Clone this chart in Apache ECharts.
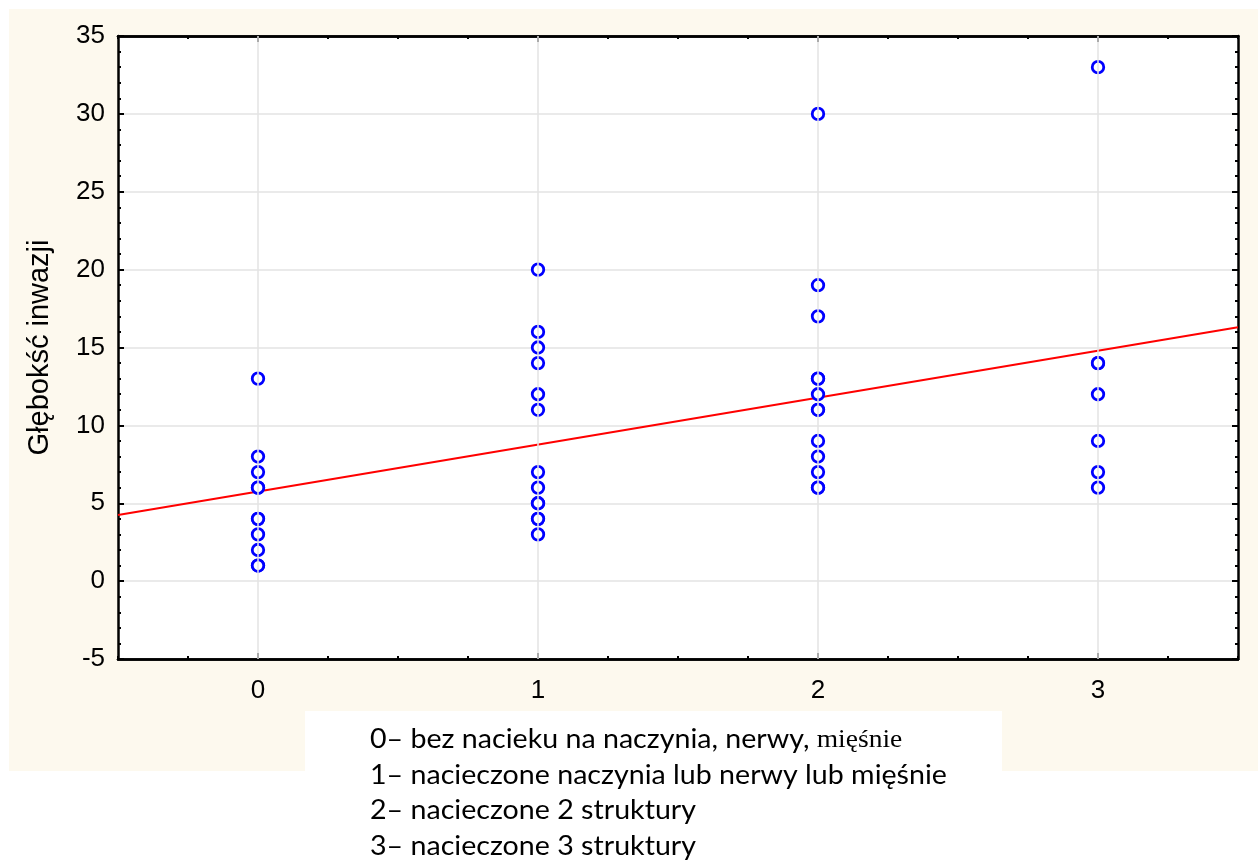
<!DOCTYPE html>
<html>
<head>
<meta charset="utf-8">
<script src="https://cdn.jsdelivr.net/npm/echarts@6/dist/echarts.min.js"></script>
<style>
  html, body { margin: 0; padding: 0; background: #ffffff; }
  #chart { width: 1258px; height: 861px; }
</style>
</head>
<body>
<div id="chart"></div>
<script>
// Infiltration category (x) and depth of invasion (y) per patient
const categories = [0, 1, 2, 3];
const depthGroup0 = [13, 8, 7, 6, 6, 4, 4, 3, 2, 1, 1];
const depthGroup1 = [20, 16, 15, 14, 12, 11, 7, 6, 5, 5, 4, 4, 3];
const depthGroup2 = [30, 19, 17, 13, 13, 12, 11, 11, 9, 8, 7, 6, 6];
const depthGroup3 = [33, 14, 14, 12, 9, 7, 6];
const xRange = [-0.5, 3.5];
const yRange = [-5, 35];
const yStep = 5;
const yAxisTitle = 'Głębokść inwazji';
const legendLines = [
  ['0– bez nacieku na naczynia, nerwy, ', 'mięśnie'],
  ['1– nacieczone naczynia lub nerwy lub mięśnie'],
  ['2– nacieczone 2 struktury'],
  ['3– nacieczone 3 struktury']
];

const groups = [depthGroup0, depthGroup1, depthGroup2, depthGroup3];
const points = [];
groups.forEach((vals, i) => vals.forEach(v => points.push([categories[i], v])));

// Least-squares fit of depth against category
const n = points.length;
const mx = points.reduce((s, p) => s + p[0], 0) / n;
const my = points.reduce((s, p) => s + p[1], 0) / n;
let sxy = 0, sxx = 0;
points.forEach(p => { sxy += (p[0] - mx) * (p[1] - my); sxx += (p[0] - mx) * (p[0] - mx); });
const slope = sxy / sxx;
const intercept = my - slope * mx;
const fitLine = xRange.map(x => [x, intercept + slope * x]);

const FONT = '"Liberation Sans", Arial, sans-serif';
const frame = { show: true, onZero: false, lineStyle: { color: '#000', width: 2.5 } };
const tickStyle = { color: '#000', width: 2 };

function xAxisBase(pos, extra) {
  return Object.assign({
    type: 'value', position: pos, min: xRange[0], max: xRange[1],
    axisLine: frame, splitLine: { show: false },
    axisLabel: { show: false }
  }, extra);
}
function yAxisBase(pos, extra) {
  return Object.assign({
    type: 'value', position: pos, min: yRange[0], max: yRange[1], interval: yStep,
    axisLine: frame,
    axisTick: { show: true, inside: true, length: 6, lineStyle: tickStyle },
    minorTick: { show: true, splitNumber: 5, length: 3, lineStyle: tickStyle },
    axisLabel: { show: false }
  }, extra);
}

const chart = echarts.init(document.getElementById('chart'));
chart.setOption({
  backgroundColor: '#ffffff',
  animation: false,
  grid: {
    left: 118, top: 36, right: 20, bottom: 202,
    show: true, backgroundColor: '#ffffff', borderWidth: 0
  },
  xAxis: [
    xAxisBase('bottom', {
      interval: 0.25,
      axisTick: { show: true, inside: true, length: 3, lineStyle: tickStyle },
      axisLabel: {
        show: true, margin: 19, color: '#000', fontSize: 26, fontFamily: FONT,
        formatter: v => (Number.isInteger(v) && categories.includes(v)) ? String(v) : ''
      }
    }),
    xAxisBase('bottom', {
      axisTick: { show: true, inside: true, length: 6, customValues: categories, lineStyle: tickStyle }
    }),
    xAxisBase('top', {
      interval: 0.25,
      axisTick: { show: true, inside: true, length: 3, lineStyle: tickStyle }
    }),
    xAxisBase('top', {
      axisTick: { show: true, inside: true, length: 6, customValues: categories, lineStyle: tickStyle }
    })
  ],
  yAxis: [
    yAxisBase('left', {
      name: yAxisTitle, nameLocation: 'middle', nameGap: 64,
      nameTextStyle: { color: '#000', fontSize: 29, fontFamily: FONT },
      splitLine: { show: true, lineStyle: { color: '#e3e3e3', width: 1.5 } },
      axisLabel: { show: true, margin: 13, color: '#000', fontSize: 26, fontFamily: FONT }
    }),
    yAxisBase('right', { splitLine: { show: false } })
  ],
  series: [
    {
      type: 'line', xAxisIndex: 0, yAxisIndex: 0, data: [], silent: true,
      markLine: {
        silent: true, symbol: ['none', 'none'], label: { show: false },
        lineStyle: { color: '#e3e3e3', width: 1.5, type: 'solid' },
        data: categories.map(c => ({ xAxis: c }))
      },
      z: 1
    },
    {
      type: 'line', xAxisIndex: 0, yAxisIndex: 0, data: fitLine,
      showSymbol: false, symbol: 'none',
      lineStyle: { color: '#ff0000', width: 2.2 }, z: 3
    },
    {
      type: 'scatter', xAxisIndex: 0, yAxisIndex: 0, data: points,
      symbol: 'circle', symbolSize: 11.5,
      itemStyle: { color: '#ffffff', borderColor: '#0000ff', borderWidth: 2.8, opacity: 1 },
      z: 4
    }
  ],
  graphic: [
    { type: 'rect', z: -100, shape: { x: 9, y: 9, width: 1249, height: 762 }, style: { fill: '#fdf9ee' } },
    { type: 'rect', z: -90, shape: { x: 305, y: 711, width: 697, height: 150 }, style: { fill: '#ffffff' } },
    {
      type: 'group', z: 100,
      children: legendLines.map((parts, i) => ({
        type: 'text', x: 370, y: 727 + i * 35.5, scaleX: 1.1,
        style: {
          text: parts.length > 1 ? '{a|' + parts[0] + '}{s|' + parts[1] + '}' : '{a|' + parts[0] + '}',
          rich: {
            a: { fontFamily: 'Lato, "Open Sans", sans-serif', fontSize: 26, fill: '#000' },
            s: { fontFamily: '"Liberation Serif", "Times New Roman", serif', fontSize: 25, fill: '#000' }
          }
        }
      }))
    }
  ]
});
</script>
</body>
</html>
